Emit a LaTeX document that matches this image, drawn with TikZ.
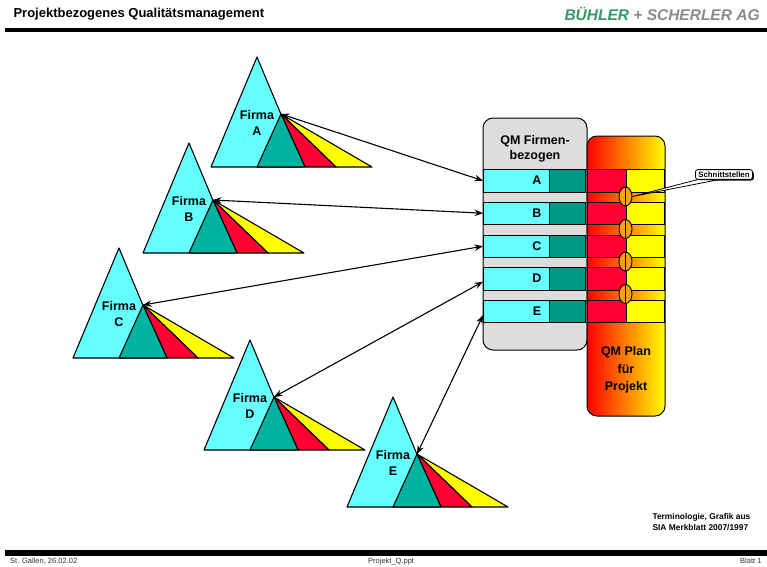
\documentclass[tikz,border=0pt]{standalone}
\usepackage{fontspec}
\setmainfont{Liberation Sans}
\usetikzlibrary{arrows.meta,shapes.geometric,shadows}
\definecolor{qmcyan}{HTML}{66FFFF}
\definecolor{qmteal}{HTML}{00B2A0}
\definecolor{qmtealdk}{HTML}{009987}
\definecolor{qmred}{HTML}{FF0033}
\definecolor{qmyellow}{HTML}{FFFF00}
\definecolor{qmgray}{HTML}{DDDDDD}
\definecolor{qmorange}{HTML}{FF9E1A}
\definecolor{bsgreen}{HTML}{339966}
\definecolor{bsgray}{HTML}{8A8A8A}

% Firma-Dreieck: Name, Spitze x, Spitze y, Buchstabe
\newcommand{\firma}[4]{%
  \begin{scope}[shift={(#2,#3)}]
    \filldraw[tri,fill=qmcyan] (-46,110) -- (0,0) -- (46,110) -- cycle;
    \coordinate (#1) at (24,57);
    \filldraw[tri,fill=qmyellow] (#1) -- (79,110) -- (115,110) -- cycle;
    \filldraw[tri,fill=qmred] (#1) -- (48,110) -- (79,110) -- cycle;
    \filldraw[tri,fill=qmteal] (#1) -- (0,110) -- (48,110) -- cycle;
    \node[lbl] (#1lbl) at (0,66) {Firma\\#4};
  \end{scope}}

% Zeile im QM-Block: Name, Oberkante, Buchstabe
\newcommand{\qmrow}[3]{%
  \node[cell,fill=qmcyan,minimum width=66pt] (#1) at (483,#2) {};
  \node[cell,fill=qmtealdk,minimum width=36pt] (#1t) at (549,#2) {};
  \node[cell,fill=qmred,minimum width=39pt] (#1r) at (587,#2) {};
  \node[cell,fill=qmyellow,minimum width=38pt] (#1y) at (626,#2) {};
  \node[lbl] (#1l) at (537,#2+11.5) {#3};}

\begin{document}
\begin{tikzpicture}[
    x=1pt,y=-1pt,
    every node/.style={font=\bfseries},
    lbl/.style={align=center,inner sep=0pt,font=\fontsize{12.5}{15.5}\selectfont\bfseries},
    foot/.style={anchor=base west,inner sep=0pt,font=\fontsize{7.5}{9}\selectfont,text=black!80},
    tri/.style={draw,line width=1.1pt,line join=round},
    cell/.style={draw,line width=0.9pt,minimum height=22.5pt,inner sep=0pt,anchor=north west},
    ell/.style={draw,ellipse,line width=0.9pt,fill=qmorange,minimum width=13pt,minimum height=19pt,inner sep=0pt},
    arr/.style={<->,line width=1.1pt},
    >={Stealth[length=8.5pt,width=6.5pt]},
  ]
  \useasboundingbox (0,0) rectangle (767,566);

  % Kopf- und Fusszeile
  \node[anchor=west,font=\fontsize{13}{15}\selectfont\bfseries] (titel) at (10,14) {Projektbezogenes Qualitätsmanagement};
  \node[anchor=west,font=\fontsize{15.5}{17}\selectfont\bfseries\itshape] (firm) at (561,14) {\textcolor{bsgreen}{BÜHLER} \textcolor{bsgray}{+ SCHERLER AG}};
  \draw[line width=4pt] (5,30) -- (780,30);
  \draw[line width=5.5pt] (5,553) -- (780,553);
  \node[foot] (ort) at (10,563.5) {St. Gallen, 26.02.02};
  \node[foot] (datei) at (368,563.5) {Projekt\_Q.ppt};
  \node[foot] (blatt) at (740,563.5) {Blatt 1};

  % QM Bloecke
  \draw[line width=1pt,fill=qmgray,rounded corners=10pt] (483,118) rectangle (587,350);
  \draw[line width=1pt,rounded corners=10pt,left color=red,right color=qmyellow] (587,136) rectangle (665,416);
  \node[lbl] (qmf) at (535,149) {QM Firmen-\\bezogen};
  \node[lbl,font=\fontsize{12.5}{17.5}\selectfont\bfseries] (qmp) at (626,370) {QM Plan\\für\\Projekt};

  \qmrow{ra}{169}{A}
  \qmrow{rb}{201.5}{B}
  \qmrow{rc}{234.5}{C}
  \qmrow{rd}{267}{D}
  \qmrow{re}{299.5}{E}

  % Schnittstellen
  \node[ell] (s1) at (625.5,196.5) {};
  \node[ell] (s2) at (625.5,229) {};
  \node[ell] (s3) at (625.5,261.5) {};
  \node[ell] (s4) at (625.5,294) {};
  \draw[line width=0.9pt] (s1.north) -- (s1.south) (s2.north) -- (s2.south)
    (s3.north) -- (s3.south) (s4.north) -- (s4.south);
  \node[draw,line width=0.8pt,rounded corners=2.5pt,fill=white,inner xsep=3pt,inner ysep=2pt,
    font=\fontsize{7.8}{9}\selectfont\bfseries,
    drop shadow={shadow xshift=1.2pt,shadow yshift=-1.2pt,fill=black,opacity=1}] (schnitt) at (724,174.5) {Schnittstellen};
  \filldraw[fill=white,line width=0.8pt] ([xshift=-27pt]schnitt.south) -- ([xshift=-6pt]schnitt.south) -- (s1.east) -- cycle;

  % Firmen
  \firma{fa}{257}{57}{A}
  \firma{fb}{189}{143}{B}
  \firma{fc}{119}{248}{C}
  \firma{fd}{250}{340}{D}
  \firma{fe}{393}{397}{E}

  \draw[arr] (fa) -- (ra.west);
  \draw[arr] (fb) -- (rb.west);
  \draw[arr] (fc) -- (rc.west);
  \draw[arr] (fd) -- ([yshift=-3pt]rd.west);
  \draw[arr] (fe) -- ([yshift=-4pt]re.west);

  \node[anchor=north west,align=left,font=\fontsize{8.4}{10.5}\selectfont\bfseries] (quelle) at (649,510) {Terminologie, Grafik aus\\SIA Merkblatt 2007/1997};
\end{tikzpicture}
\end{document}
